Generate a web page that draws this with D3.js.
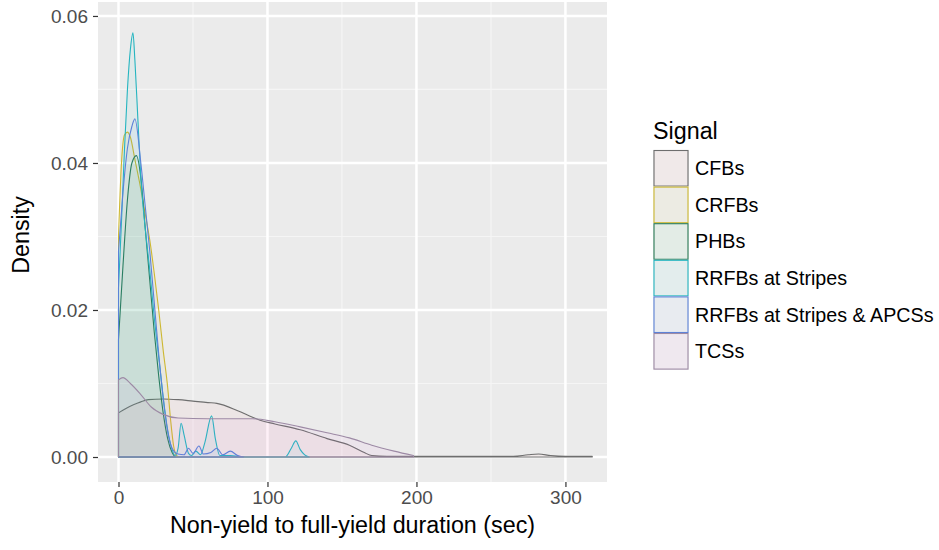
<!DOCTYPE html>
<html>
<head>
<meta charset="utf-8">
<script src="https://cdn.jsdelivr.net/npm/d3@7/dist/d3.min.js"></script>
<style>
  body { margin: 0; background: #fff; }
  text { font-family: "Liberation Sans", Arial, sans-serif; }
</style>
</head>
<body>
<svg id="svg" width="939" height="550"></svg>
<script>
// signal groups, in legend order
var signals = ["CFBs", "CRFBs", "PHBs", "RRFBs at Stripes", "RRFBs at Stripes & APCSs", "TCSs"];

// density curves: [duration (sec), density]
var densCFBs = [[0,0.0060],[5,0.0066],[10,0.0071],[15,0.0075],[20,0.0078],[30,0.0079],[40,0.0078],
  [50,0.0076],[60,0.0074],[66,0.0073],[80,0.0063],[90,0.0054],[95,0.0050],[105,0.0045],[122,0.0037],
  [140,0.0025],[155,0.0016],[165,0.0006],[170,0.0002],[180,0.0001],[220,0.0001],[265,0.0001],
  [275,0.0003],[282,0.0004],[290,0.0002],[300,0.0001],[318,0.0001]];
var densCRFBs = [[0,0.030],[2,0.040],[4,0.0438],[6,0.0442],[8,0.0435],[11,0.0405],[14,0.0375],
  [18,0.033],[21,0.0295],[24,0.025],[27,0.020],[30,0.0145],[33,0.0095],[35,0.005],[37,0.0015],
  [39,0.0002],[41,0]];
var densPHBs = [[0,0.016],[3,0.026],[6,0.035],[9,0.040],[12,0.041],[15,0.038],[18,0.031],[21,0.024],
  [24,0.017],[27,0.011],[30,0.006],[33,0.0025],[36,0.0006],[38,0]];
var densRRFBs = [[0,0.023],[2,0.032],[4,0.0418],[6,0.050],[8,0.0555],[9.7,0.0577],[11,0.054],
  [13,0.046],[15,0.038],[18,0.031],[21,0.0254],[24,0.019],[28,0.0118],[31,0.0065],[33,0.0037],
  [36,0.001],[38,0.0002],[40,0.0012],[42,0.0046],[44,0.003],[47,0.0005],[49,0.0002],[52,0.0008],
  [55,0.0003],[58,0.002],[62.5,0.0056],[65,0.0025],[68,0.0002],[75,0.0002],[85,0],[112,0],
  [116,0.0012],[119,0.0022],[122,0.0010],[125,0.0003],[128,0]];
var densAPCSs = [[0,0.028],[3,0.036],[6,0.042],[9,0.045],[11,0.046],[15,0.040],[18,0.034],[21,0.028],
  [24,0.021],[27,0.014],[30,0.008],[33,0.0035],[36,0.0012],[40,0.0004],[44,0.0003],[47,0.0012],
  [50,0.0005],[54,0.0015],[57,0.0004],[62,0.0006],[66,0.0012],[70,0.0003],[75,0.0008],[80,0.0002],[84,0]];
var densTCSs = [[0,0.0105],[3,0.0108],[8,0.0100],[15,0.0085],[22,0.0068],[30,0.0058],[40,0.0053],
  [60,0.0052],[90,0.0052],[105,0.0048],[122,0.0041],[140,0.0033],[155,0.0026],[170,0.0016],
  [185,0.0008],[198,0.0002]];

var xTicks = [0, 100, 200, 300];
var xMinor = [50, 150, 250];
var yTicks = [0, 0.02, 0.04, 0.06];
var yMinor = [0.01, 0.03, 0.05];

var fills = ["#F8766D", "#B79F00", "#00BA38", "#00BFC4", "#619CFF", "#F564E3"];
var strokes = ["#6e6e6e", "#cdb832", "#2a7a55", "#25b5c0", "#5b82d8", "#9d8aa5"];
var curves = [densCFBs, densCRFBs, densPHBs, densRRFBs, densAPCSs, densTCSs];

var svg = d3.select("#svg");
var pLeft = 98, pRight = 607, pTop = 2, pBottom = 482;

var x = d3.scaleLinear().domain([-13.76, 327.9]).range([pLeft, pRight]);
var y = d3.scaleLinear().domain([-0.0034, 0.0619]).range([pBottom, pTop]);

// panel
svg.append("rect").attr("x", pLeft).attr("y", pTop)
  .attr("width", pRight - pLeft).attr("height", pBottom - pTop).attr("fill", "#ebebeb");

var grid = svg.append("g");
grid.selectAll(".xmin").data(xMinor).enter().append("line")
  .attr("x1", function(d){return x(d);}).attr("x2", function(d){return x(d);})
  .attr("y1", pTop).attr("y2", pBottom).attr("stroke", "#f5f5f5").attr("stroke-width", 1.2);
grid.selectAll(".ymin").data(yMinor).enter().append("line")
  .attr("y1", function(d){return y(d);}).attr("y2", function(d){return y(d);})
  .attr("x1", pLeft).attr("x2", pRight).attr("stroke", "#f5f5f5").attr("stroke-width", 1.2);
grid.selectAll(".xmaj").data(xTicks).enter().append("line")
  .attr("x1", function(d){return x(d);}).attr("x2", function(d){return x(d);})
  .attr("y1", pTop).attr("y2", pBottom).attr("stroke", "#fff").attr("stroke-width", 2.5);
grid.selectAll(".ymaj").data(yTicks).enter().append("line")
  .attr("y1", function(d){return y(d);}).attr("y2", function(d){return y(d);})
  .attr("x1", pLeft).attr("x2", pRight).attr("stroke", "#fff").attr("stroke-width", 2.5);

// density polygons, outline drawn all round like old ggplot
var area = d3.area()
  .x(function(d){return x(d[0]);})
  .y0(y(0))
  .y1(function(d){return y(d[1]);})
  .curve(d3.curveMonotoneX);

svg.append("g").selectAll("path").data(curves).enter().append("path")
  .attr("d", function(d){return area(d) + "Z";})
  .attr("fill", function(d, i){return fills[i];})
  .attr("fill-opacity", 0.05)
  .attr("stroke", function(d, i){return strokes[i];})
  .attr("stroke-width", 1.1)
  .attr("stroke-linejoin", "round");

// axes
var xAxis = d3.axisBottom(x).tickValues(xTicks).tickSize(5).tickPadding(4).tickFormat(d3.format("d"));
var gx = svg.append("g").attr("transform", "translate(0," + pBottom + ")").call(xAxis);
gx.select(".domain").remove();
gx.selectAll("line").attr("stroke", "#333").attr("stroke-width", 1.2);
gx.selectAll("text").attr("fill", "#4d4d4d").style("font-size", "19px")
  .style("font-family", "Liberation Sans, Arial, sans-serif");

var yAxis = d3.axisLeft(y).tickValues(yTicks).tickSize(5).tickPadding(5).tickFormat(d3.format(".2f"));
var gy = svg.append("g").attr("transform", "translate(" + pLeft + ",0)").call(yAxis);
gy.select(".domain").remove();
gy.selectAll("line").attr("stroke", "#333").attr("stroke-width", 1.2);
gy.selectAll("text").attr("fill", "#4d4d4d").style("font-size", "19px")
  .style("font-family", "Liberation Sans, Arial, sans-serif");

svg.append("text").attr("x", (pLeft + pRight) / 2).attr("y", 533)
  .attr("text-anchor", "middle").style("font-size", "23.3px").attr("fill", "#000")
  .text("Non-yield to full-yield duration (sec)");
svg.append("text").attr("transform", "translate(29,235) rotate(-90)")
  .attr("text-anchor", "middle").style("font-size", "23.3px").attr("fill", "#000")
  .text("Density");

// legend
var legend = svg.append("g").attr("transform", "translate(653,0)");
legend.append("text").attr("x", 0).attr("y", 139).style("font-size", "23.3px").text("Signal");
var keyH = 36.6, keyTop = 150;
var keys = legend.selectAll(".key").data(signals).enter().append("g")
  .attr("transform", function(d, i){return "translate(0," + (keyTop + i * keyH) + ")";});
keys.append("rect").attr("width", 36).attr("height", keyH).attr("fill", "#f0f0f0");
keys.append("rect").attr("x", 1).attr("y", 0.5).attr("width", 34).attr("height", keyH - 1)
  .attr("fill", function(d, i){return fills[i];}).attr("fill-opacity", 0.05)
  .attr("stroke", function(d, i){return strokes[i];}).attr("stroke-width", 1.1);
keys.append("text").attr("x", 42).attr("y", keyH / 2 + 7)
  .style("font-size", "19.7px").attr("fill", "#000")
  .text(function(d){return d;});
</script>
</body>
</html>
